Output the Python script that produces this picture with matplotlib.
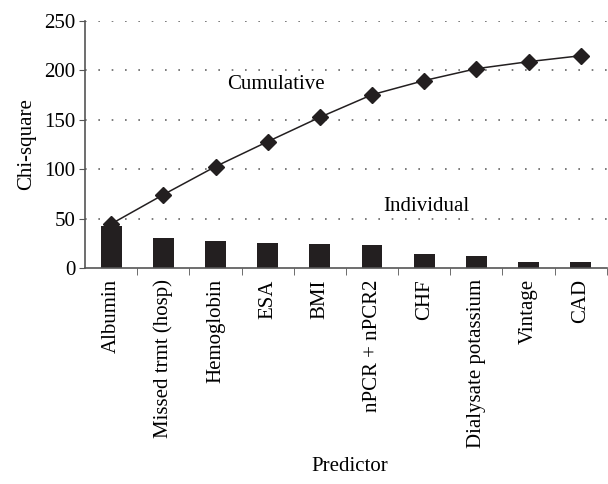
import numpy as np
import matplotlib.pyplot as plt

predictors = ['Albumin', 'Missed trmt (hosp)', 'Hemoglobin', 'ESA', 'BMI',
              'nPCR + nPCR2', 'CHF', 'Dialysate potassium', 'Vintage', 'CAD']
individual = [43, 30.6, 27.6, 25.2, 23.9, 22.9, 14, 11.8, 6, 5.7]
cumulative = [44.7, 74.3, 102.7, 127.9, 152.5, 175.3, 189.6, 201.6, 208.7, 214.7]

plt.rcParams['font.family'] = ['Liberation Serif', 'DejaVu Serif']
plt.rcParams['font.size'] = 15

fig = plt.figure(figsize=(6.08, 4.84), dpi=100)
ax = fig.add_axes([0.14, 0.446, 0.858, 0.511])

x = np.arange(len(predictors))
dark = '#231f20'
ax.bar(x, individual, width=0.4, color=dark, zorder=2)
ax.plot(x, cumulative, color=dark, lw=1.1, marker='D', markersize=8, zorder=3)

ax.set_xlim(-0.5, len(predictors) - 0.5)
ax.set_ylim(0, 250)
ax.set_yticks([0, 50, 100, 150, 200, 250])
# sparse dotted grid
for yv in [50, 100, 150, 200, 250]:
    ax.axhline(yv, color='#666666', lw=1.2, ls=(0, (1, 7)), zorder=1)

ax.set_xticks(x)
ax.set_xticklabels(predictors, rotation=90)
ax.set_xticks(np.arange(len(predictors)) + 0.5, minor=True)
ax.tick_params(axis='x', which='major', length=0, pad=8)
ax.tick_params(axis='x', which='minor', length=5, color='#555555')
ax.tick_params(axis='y', length=4, color='#555555', pad=3)

for s in ['top', 'right']:
    ax.spines[s].set_visible(False)
for s in ['left', 'bottom']:
    ax.spines[s].set_color('#555555')
    ax.spines[s].set_linewidth(1.2)

ax.text(3.15, 186, 'Cumulative', ha='center', va='center')
ax.text(6.05, 62.5, 'Individual', ha='center', va='center')

ax.set_ylabel('Chi-square', labelpad=6)
fig.text(0.576, 0.036, 'Predictor', ha='center', va='center')

fig.savefig('out.png', dpi=100)
